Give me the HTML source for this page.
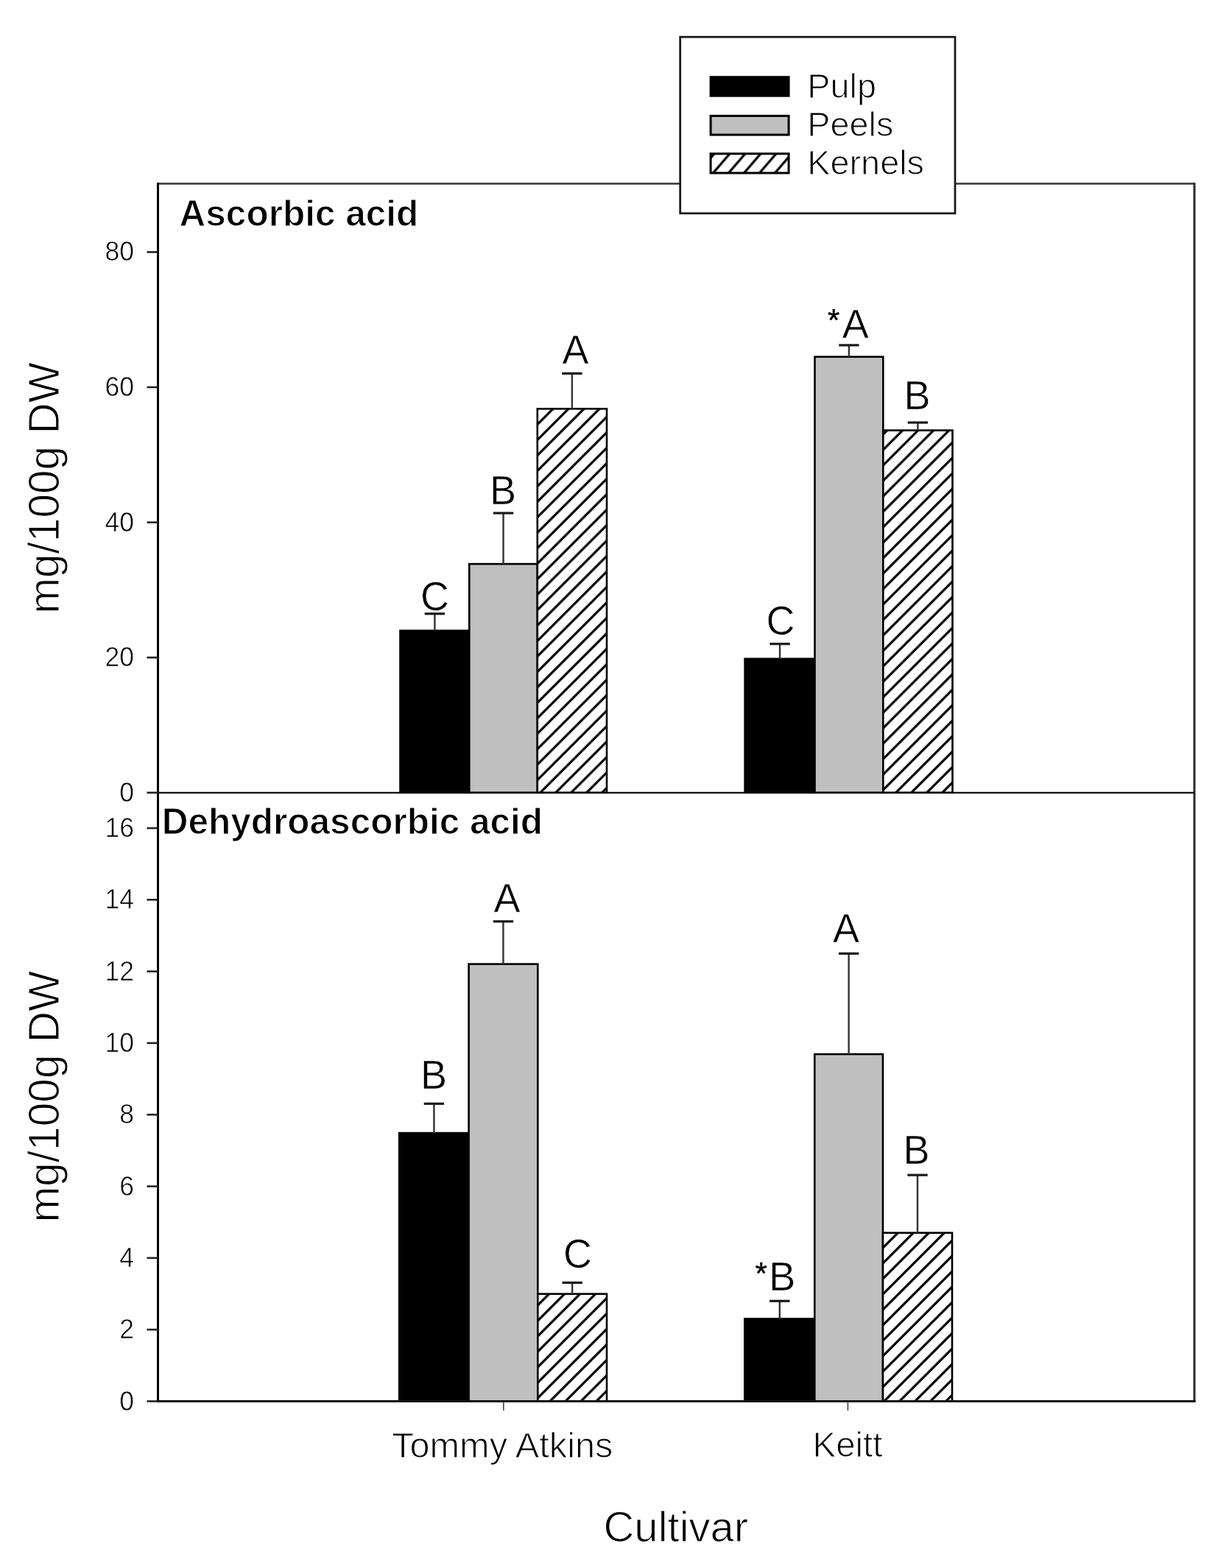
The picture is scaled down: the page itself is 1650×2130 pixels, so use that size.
<!DOCTYPE html><html><head><meta charset="utf-8"><title>Ascorbic and dehydroascorbic acid</title><style>html,body{margin:0;padding:0;background:#fff;}svg{display:block;}text{font-family:'Liberation Sans', Arial, sans-serif;fill:#000;stroke:#fff;stroke-width:1.1px;}</style></head><body>
<svg width="1650" height="2130" viewBox="0 0 1650 2130">
<defs><pattern id="hatch" patternUnits="userSpaceOnUse" x="4.4" y="0" width="21.0" height="21.0"><path d="M-3,3 L3,-3 M0,21.0 L21.0,0 M18.0,24.0 L24.0,18.0" stroke="#000" stroke-width="3.2" fill="none"/></pattern><pattern id="hatch2" patternUnits="userSpaceOnUse" x="17.1" y="0" width="21.0" height="21.0"><path d="M-3,3 L3,-3 M0,21.0 L21.0,0 M18.0,24.0 L24.0,18.0" stroke="#000" stroke-width="3.2" fill="none"/></pattern><pattern id="hatchL" patternUnits="userSpaceOnUse" x="15.7" y="0" width="21" height="24.4"><path d="M-3,3.5 L3,-3.5 M0,24.4 L21,0 M18,27.9 L24,20.9" stroke="#000" stroke-width="3.2" fill="none"/></pattern></defs>
<rect x="0" y="0" width="1650" height="2130" fill="#fff"/>
<rect x="543.5" y="856.7" width="93.8" height="220.1" fill="#000" stroke="#000" stroke-width="2.6"/>
<line x1="590.4" y1="856.7" x2="590.4" y2="833.7" stroke="#333" stroke-width="2.4"/>
<line x1="576.7" y1="833.7" x2="604.1" y2="833.7" stroke="#1a1a1a" stroke-width="3.2"/>
<rect x="637.3" y="766.1" width="92.5" height="310.7" fill="#c0c0c0" stroke="#000" stroke-width="2.6"/>
<line x1="683.55" y1="766.1" x2="683.55" y2="697.0" stroke="#333" stroke-width="2.4"/>
<line x1="669.85" y1="697.0" x2="697.25" y2="697.0" stroke="#1a1a1a" stroke-width="3.2"/>
<rect x="729.8" y="555.3" width="94.2" height="521.5" fill="#fff"/>
<rect x="729.8" y="555.3" width="94.2" height="521.5" fill="url(#hatch)" stroke="#000" stroke-width="2.6"/>
<line x1="776.9" y1="555.3" x2="776.9" y2="507.3" stroke="#333" stroke-width="2.4"/>
<line x1="763.2" y1="507.3" x2="790.6" y2="507.3" stroke="#1a1a1a" stroke-width="3.2"/>
<rect x="1011.6" y="894.9" width="94.9" height="181.9" fill="#000" stroke="#000" stroke-width="2.6"/>
<line x1="1059.05" y1="894.9" x2="1059.05" y2="874.7" stroke="#333" stroke-width="2.4"/>
<line x1="1045.35" y1="874.7" x2="1072.75" y2="874.7" stroke="#1a1a1a" stroke-width="3.2"/>
<rect x="1106.5" y="484.7" width="92.8" height="592.1" fill="#c0c0c0" stroke="#000" stroke-width="2.6"/>
<line x1="1152.9" y1="484.7" x2="1152.9" y2="468.9" stroke="#333" stroke-width="2.4"/>
<line x1="1139.2" y1="468.9" x2="1166.6" y2="468.9" stroke="#1a1a1a" stroke-width="3.2"/>
<rect x="1199.3" y="584.6" width="94.2" height="492.2" fill="#fff"/>
<rect x="1199.3" y="584.6" width="94.2" height="492.2" fill="url(#hatch)" stroke="#000" stroke-width="2.6"/>
<line x1="1246.4" y1="584.6" x2="1246.4" y2="574.0" stroke="#333" stroke-width="2.4"/>
<line x1="1232.7" y1="574.0" x2="1260.1" y2="574.0" stroke="#1a1a1a" stroke-width="3.2"/>
<rect x="542.2" y="1539.1" width="94.4" height="364.4" fill="#000" stroke="#000" stroke-width="2.6"/>
<line x1="589.4" y1="1539.1" x2="589.4" y2="1499.3" stroke="#333" stroke-width="2.4"/>
<line x1="575.7" y1="1499.3" x2="603.1" y2="1499.3" stroke="#1a1a1a" stroke-width="3.2"/>
<rect x="636.6" y="1309.6" width="93.7" height="593.9" fill="#c0c0c0" stroke="#000" stroke-width="2.6"/>
<line x1="683.45" y1="1309.6" x2="683.45" y2="1251.7" stroke="#333" stroke-width="2.4"/>
<line x1="669.75" y1="1251.7" x2="697.15" y2="1251.7" stroke="#1a1a1a" stroke-width="3.2"/>
<rect x="730.3" y="1757.7" width="93.7" height="145.8" fill="#fff"/>
<rect x="730.3" y="1757.7" width="93.7" height="145.8" fill="url(#hatch)" stroke="#000" stroke-width="2.6"/>
<line x1="777.15" y1="1757.7" x2="777.15" y2="1742.4" stroke="#333" stroke-width="2.4"/>
<line x1="763.45" y1="1742.4" x2="790.85" y2="1742.4" stroke="#1a1a1a" stroke-width="3.2"/>
<rect x="1011.3" y="1791.5" width="95.0" height="112.0" fill="#000" stroke="#000" stroke-width="2.6"/>
<line x1="1058.8" y1="1791.5" x2="1058.8" y2="1767.3" stroke="#333" stroke-width="2.4"/>
<line x1="1045.1" y1="1767.3" x2="1072.5" y2="1767.3" stroke="#1a1a1a" stroke-width="3.2"/>
<rect x="1106.3" y="1432.0" width="92.7" height="471.5" fill="#c0c0c0" stroke="#000" stroke-width="2.6"/>
<line x1="1152.65" y1="1432.0" x2="1152.65" y2="1295.3" stroke="#333" stroke-width="2.4"/>
<line x1="1138.95" y1="1295.3" x2="1166.35" y2="1295.3" stroke="#1a1a1a" stroke-width="3.2"/>
<rect x="1199.0" y="1674.7" width="94.0" height="228.8" fill="#fff"/>
<rect x="1199.0" y="1674.7" width="94.0" height="228.8" fill="url(#hatch2)" stroke="#000" stroke-width="2.6"/>
<line x1="1246.0" y1="1674.7" x2="1246.0" y2="1596.2" stroke="#333" stroke-width="2.4"/>
<line x1="1232.3" y1="1596.2" x2="1259.7" y2="1596.2" stroke="#1a1a1a" stroke-width="3.2"/>
<line x1="214.5" y1="249.5" x2="1622.0" y2="249.5" stroke="#333" stroke-width="2.7"/>
<line x1="1622.0" y1="248.2" x2="1622.0" y2="1905.0" stroke="#2a2a2a" stroke-width="3"/>
<line x1="214.5" y1="248.2" x2="214.5" y2="1905.0" stroke="#000" stroke-width="3"/>
<line x1="214.5" y1="1076.8" x2="1622.0" y2="1076.8" stroke="#111" stroke-width="2.2"/>
<line x1="213.0" y1="1903.5" x2="1623.5" y2="1903.5" stroke="#111" stroke-width="3.2"/>
<line x1="199.5" y1="1076.8" x2="214.5" y2="1076.8" stroke="#222" stroke-width="2.6"/>
<text transform="translate(182,1088.8) scale(1,1.03)" font-size="35.5" text-anchor="end" style="stroke-width:0.6px">0</text>
<line x1="199.5" y1="893.2" x2="214.5" y2="893.2" stroke="#222" stroke-width="2.6"/>
<text transform="translate(182,905.2) scale(1,1.03)" font-size="35.5" text-anchor="end" style="stroke-width:0.6px">20</text>
<line x1="199.5" y1="709.6" x2="214.5" y2="709.6" stroke="#222" stroke-width="2.6"/>
<text transform="translate(182,721.6) scale(1,1.03)" font-size="35.5" text-anchor="end" style="stroke-width:0.6px">40</text>
<line x1="199.5" y1="526.0" x2="214.5" y2="526.0" stroke="#222" stroke-width="2.6"/>
<text transform="translate(182,538.0) scale(1,1.03)" font-size="35.5" text-anchor="end" style="stroke-width:0.6px">60</text>
<line x1="199.5" y1="342.4" x2="214.5" y2="342.4" stroke="#222" stroke-width="2.6"/>
<text transform="translate(182,354.4) scale(1,1.03)" font-size="35.5" text-anchor="end" style="stroke-width:0.6px">80</text>
<line x1="199.5" y1="1903.5" x2="214.5" y2="1903.5" stroke="#222" stroke-width="2.6"/>
<text transform="translate(182,1915.5) scale(1,1.03)" font-size="35.5" text-anchor="end" style="stroke-width:0.6px">0</text>
<line x1="199.5" y1="1806.18" x2="214.5" y2="1806.18" stroke="#222" stroke-width="2.6"/>
<text transform="translate(182,1818.2) scale(1,1.03)" font-size="35.5" text-anchor="end" style="stroke-width:0.6px">2</text>
<line x1="199.5" y1="1708.86" x2="214.5" y2="1708.86" stroke="#222" stroke-width="2.6"/>
<text transform="translate(182,1720.9) scale(1,1.03)" font-size="35.5" text-anchor="end" style="stroke-width:0.6px">4</text>
<line x1="199.5" y1="1611.54" x2="214.5" y2="1611.54" stroke="#222" stroke-width="2.6"/>
<text transform="translate(182,1623.5) scale(1,1.03)" font-size="35.5" text-anchor="end" style="stroke-width:0.6px">6</text>
<line x1="199.5" y1="1514.22" x2="214.5" y2="1514.22" stroke="#222" stroke-width="2.6"/>
<text transform="translate(182,1526.2) scale(1,1.03)" font-size="35.5" text-anchor="end" style="stroke-width:0.6px">8</text>
<line x1="199.5" y1="1416.9" x2="214.5" y2="1416.9" stroke="#222" stroke-width="2.6"/>
<text transform="translate(182,1428.9) scale(1,1.03)" font-size="35.5" text-anchor="end" style="stroke-width:0.6px">10</text>
<line x1="199.5" y1="1319.58" x2="214.5" y2="1319.58" stroke="#222" stroke-width="2.6"/>
<text transform="translate(182,1331.6) scale(1,1.03)" font-size="35.5" text-anchor="end" style="stroke-width:0.6px">12</text>
<line x1="199.5" y1="1222.26" x2="214.5" y2="1222.26" stroke="#222" stroke-width="2.6"/>
<text transform="translate(182,1234.3) scale(1,1.03)" font-size="35.5" text-anchor="end" style="stroke-width:0.6px">14</text>
<line x1="199.5" y1="1124.94" x2="214.5" y2="1124.94" stroke="#222" stroke-width="2.6"/>
<text transform="translate(182,1136.9) scale(1,1.03)" font-size="35.5" text-anchor="end" style="stroke-width:0.6px">16</text>
<line x1="683.8" y1="1905.0" x2="683.8" y2="1916" stroke="#444" stroke-width="1.6"/>
<line x1="1151.4" y1="1905.0" x2="1151.4" y2="1916" stroke="#444" stroke-width="1.6"/>
<text x="682.3" y="1979.5" font-size="48.7" text-anchor="middle">Tommy Atkins</text>
<text x="1151" y="1978.8" font-size="47.5" text-anchor="middle">Keitt</text>
<text x="917.8" y="2093.5" font-size="58" text-anchor="middle">Cultivar</text>
<text x="243.6" y="307.0" font-size="49.5" font-weight="bold">Ascorbic acid</text>
<text x="219.8" y="1133.2" font-size="49.5" font-weight="bold">Dehydroascorbic acid</text>
<text transform="translate(79.8,662.9) rotate(-90)" font-size="58.6" text-anchor="middle">mg/100g DW</text>
<text transform="translate(79.8,1489.6) rotate(-90)" font-size="58.6" text-anchor="middle">mg/100g DW</text>
<text transform="translate(570.9,828.6) scale(1,1.03)" font-size="54.0" style="stroke-width:0.6px">C</text>
<text transform="translate(665.1,684.7) scale(1,1.03)" font-size="54.0" style="stroke-width:0.6px">B</text>
<text transform="translate(763.6,493.6) scale(1,1.03)" font-size="54.0" style="stroke-width:0.6px">A</text>
<text transform="translate(1040.4,861.7) scale(1,1.03)" font-size="54.0" style="stroke-width:0.6px">C</text>
<text transform="translate(1143.7,458.5) scale(1,1.03)" font-size="54.0" style="stroke-width:0.6px">A</text>
<text transform="translate(1227.6,556.4) scale(1,1.03)" font-size="54.0" style="stroke-width:0.6px">B</text>
<text transform="translate(571.1,1479.3) scale(1,1.03)" font-size="54.0" style="stroke-width:0.6px">B</text>
<text transform="translate(670.5,1238.8) scale(1,1.03)" font-size="54.0" style="stroke-width:0.6px">A</text>
<text transform="translate(764.9,1721.7) scale(1,1.03)" font-size="54.0" style="stroke-width:0.6px">C</text>
<text transform="translate(1044.3,1752.7) scale(1,1.03)" font-size="54.0" style="stroke-width:0.6px">B</text>
<text transform="translate(1131.1,1279.7) scale(1,1.03)" font-size="54.0" style="stroke-width:0.6px">A</text>
<text transform="translate(1226.6,1581.0) scale(1,1.03)" font-size="54.0" style="stroke-width:0.6px">B</text>
<text x="1124.1" y="448.9" font-size="42" style="stroke:#000;stroke-width:0.4px">*</text>
<text x="1025.4" y="1744.1" font-size="42" style="stroke:#000;stroke-width:0.4px">*</text>
<rect x="923.7" y="50.2" width="373.3" height="239.6" fill="#fff" stroke="#1a1a1a" stroke-width="2.8"/>
<rect x="965.1" y="104.7" width="106" height="25.5" fill="#000" stroke="#000" stroke-width="3"/>
<rect x="965.1" y="157.4" width="106" height="25.7" fill="#c0c0c0" stroke="#000" stroke-width="3"/>
<rect x="965.1" y="208.8" width="106" height="26.2" fill="url(#hatchL)" stroke="#000" stroke-width="3"/>
<text x="1096.3" y="133.2" font-size="46.8">Pulp</text>
<text x="1096.3" y="184.8" font-size="46.8">Peels</text>
<text x="1096.3" y="236.5" font-size="46.8">Kernels</text>
</svg></body></html>
